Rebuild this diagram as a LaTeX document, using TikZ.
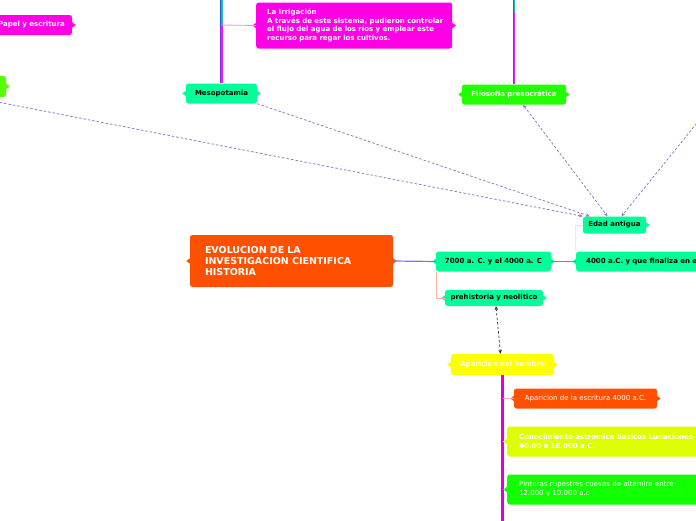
\documentclass[tikz,border=0pt]{standalone}
\usepackage{fontspec}
\setmainfont{DejaVu Sans}
\usetikzlibrary{arrows.meta,calc}
\definecolor{mag}{HTML}{FF00E6}
\definecolor{sgreen}{HTML}{00FF99}
\definecolor{lime}{HTML}{22FF00}
\definecolor{lgreen}{HTML}{55FF00}
\definecolor{pgreen}{HTML}{11FF00}
\definecolor{orng}{HTML}{FF5000}
\definecolor{yel}{HTML}{FFFF00}
\definecolor{ygreen}{HTML}{DDFF00}
\definecolor{relc}{HTML}{9977CC}
\definecolor{purpl}{HTML}{8877CC}
\definecolor{blueL}{HTML}{2255DD}
\definecolor{tealR}{HTML}{22BBAA}
\definecolor{violL}{HTML}{8A2CF0}
\definecolor{magR}{HTML}{E020FF}
\definecolor{pinkl}{HTML}{FF88FF}
\definecolor{salmon}{HTML}{FFB5A0}
\definecolor{yline}{HTML}{EEFF88}
\definecolor{vmag}{HTML}{DD00DD}
\tikzset{
  box/.style={fill=#1, rounded corners=2.5pt, inner sep=0pt,
    font=\fontsize{7}{8.6}\selectfont\bfseries},
  vl/.style={line width=1.3pt},
  rel/.style={draw=relc, dash pattern=on 2.5pt off 2pt, line width=0.8pt},
  relblack/.style={draw=black!80, dash pattern=on 2.5pt off 2pt, line width=0.7pt},
  tip/.style={-{Stealth[length=4pt,width=3.5pt]}},
  tips/.style={{Stealth[length=4pt,width=3.5pt]}-{Stealth[length=4pt,width=3.5pt]}},
  link/.style={line width=1.2pt, draw=purpl}
}
\newcommand\bumpR[2]{\fill[#2] ($(#1.east)+(-0.5,-3)$) -- ($(#1.east)+(3.5,0)$) -- ($(#1.east)+(-0.5,3)$) -- cycle;}
\newcommand\bumpL[2]{\fill[#2] ($(#1.west)+(0.5,-3)$) -- ($(#1.west)+(-3.5,0)$) -- ($(#1.west)+(0.5,3)$) -- cycle;}
\begin{document}
\begin{tikzpicture}[x=1pt,y=-1pt]
\useasboundingbox (0,0) rectangle (696,520);
\clip (0,0) rectangle (696,520);
\fill[white] (0,0) rectangle (696,520);

\coordinate (mtop) at (221.5,-2);
\coordinate (mbr) at (221.5,25);
\coordinate (ftop) at (514,-2);
\coordinate (fbr) at (514,12);
\coordinate (apbot) at (502.5,530);
\coordinate (offR) at (739,71);

% nodes
\node[box=mag, text=white, minimum width=81pt, minimum height=20pt] (papel) at (31.5,25) {Papel y escritura};
\node[box=lgreen, minimum width=66pt, minimum height=21pt] (gleft) at (-27,86.5) {};
\node[box=sgreen, minimum width=71pt, minimum height=20pt] (meso) at (221.5,93.5) {Mesopotamia};
\node[box=mag, text=white, minimum height=46pt, text width=174pt, inner xsep=11pt, align=left, anchor=west] (irrig) at (256,25.5)
  {\mbox{La Irrigación}\\\mbox{A través de este sistema, pudieron controlar}\\\mbox{el flujo del agua de los ríos y emplear este}\\\mbox{recurso para regar los cultivos.}};
\node[box=lime, text=white, minimum width=104pt, minimum height=20pt] (filo) at (514,94.5) {Filosofía presocrática};
\node[box=orng, text=white, font=\fontsize{9.5}{11}\selectfont\bfseries, minimum height=52pt, text width=173pt, inner xsep=15pt, align=left] (title) at (291.5,261)
  {EVOLUCION DE LA\\INVESTIGACION CIENTIFICA\\HISTORIA};
\node[box=sgreen, minimum width=115pt, minimum height=20pt] (t7000) at (493.5,261.5) {7000 a. C. y el 4000 a. C};
\node[box=sgreen, minimum height=20pt, text width=140pt, inner xsep=10pt, align=left, anchor=west] (t4000) at (576,261.5) {\mbox{4000 a.C. y que finaliza en el}};
\node[box=sgreen, minimum width=63pt, minimum height=17pt] (edad) at (614.5,225) {Edad antigua};
\node[box=sgreen, minimum width=98pt, minimum height=16pt] (prehist) at (494,298) {prehistoria y neolitico};
\node[box=yel, text=white, minimum width=103pt, minimum height=21pt] (apar) at (502.5,364.5) {Aparicion del hombre};
\node[box=orng, text=white, font=\fontsize{7}{8.6}\selectfont, minimum width=143pt, minimum height=20pt] (escr) at (585.5,398.5) {Aparicion de la escritura 4000 a.C.};
\node[box=ygreen, text=white, minimum height=30pt, text width=200pt, inner xsep=12pt, align=left, anchor=west] (conoc) at (507,441.5)
  {\mbox{Conocimiento astromico basicos Lunaciones}\\\mbox{40.00 a 10.000 a.C.}};
\node[box=pgreen, text=white, font=\fontsize{7}{8.9}\selectfont, minimum height=30pt, text width=200pt, inner xsep=12pt, align=left, anchor=west] (pint) at (507,489.5)
  {\mbox{Pinturas rupestres cuevas de altamira entre}\\\mbox{12.000 y 10.000 a.c}};

% bumps
\bumpR{papel}{mag}
\bumpR{gleft}{lgreen}
\bumpL{meso}{sgreen}\bumpR{meso}{sgreen}
\bumpR{irrig}{mag}\bumpL{irrig}{mag}
\bumpL{filo}{lime}\bumpR{filo}{lime}
\bumpL{title}{orng}\bumpR{title}{orng}
\bumpL{t7000}{sgreen}\bumpR{t7000}{sgreen}
\bumpL{t4000}{sgreen}
\bumpR{edad}{sgreen}
\bumpL{prehist}{sgreen}\bumpR{prehist}{sgreen}
\bumpL{apar}{yel}\bumpR{apar}{yel}
\bumpL{escr}{orng}\bumpR{escr}{orng}
\bumpL{conoc}{ygreen}
\bumpL{pint}{pgreen}

% vertical line over Mesopotamia
\draw[vl, blueL] ([xshift=-0.6pt]mbr) -- ([xshift=-0.6pt]mtop);
\draw[vl, tealR] ([xshift=0.6pt]mbr) -- ([xshift=0.6pt]mtop);
\draw[vl, violL] ([xshift=-0.6pt]meso.north) -- ([xshift=-0.6pt]mbr);
\draw[vl, magR] ([xshift=0.6pt]meso.north) -- ([xshift=0.6pt]mbr);
\draw[pinkl, line width=0.8pt] (mbr) -- (irrig.west);

% vertical line over Filosofia
\draw[vl, violL] ([xshift=-0.6pt]filo.north) -- ([xshift=-0.6pt]ftop);
\draw[vl, magR] ([xshift=0.6pt]filo.north) -- ([xshift=0.6pt]fbr);
\draw[vl, tealR] ([xshift=0.6pt]fbr) -- ([xshift=0.6pt]ftop);

% main links
\draw[link] (title.east) -- (t7000.west);
\draw[link] (t7000.east) -- (t4000.west);
\draw[yline, line width=0.8pt] ([xshift=-1pt]t4000.north west) |- (edad.west);
\draw[salmon, line width=0.8pt] ([xshift=1pt]t7000.south west) |- (prehist.west);

% relationship lines
\draw[rel, tip] (meso.south east) -- ([xshift=7pt]edad.north west);
\draw[rel, tip] (gleft.south) -- (edad.north west);
\draw[rel, tips] ([xshift=9pt]filo.south) -- ([xshift=-7pt]edad.north);
\draw[rel, tip] (offR) -- ([xshift=7pt]edad.north);
\draw[relblack, tips] ([xshift=2pt]prehist.south) -- ([xshift=-2pt]apar.north);

% Aparicion del hombre branch
\draw[vmag, line width=2.5pt] (apar.south) -- (apbot);
\draw[salmon, line width=0.8pt] (apar.south |- escr.west) -- (escr.west);
\draw[ygreen, line width=0.8pt] (apar.south |- conoc.west) -- (conoc.west);
\draw[pgreen, line width=0.8pt] (apar.south |- pint.west) -- (pint.west);
\end{tikzpicture}
\end{document}
